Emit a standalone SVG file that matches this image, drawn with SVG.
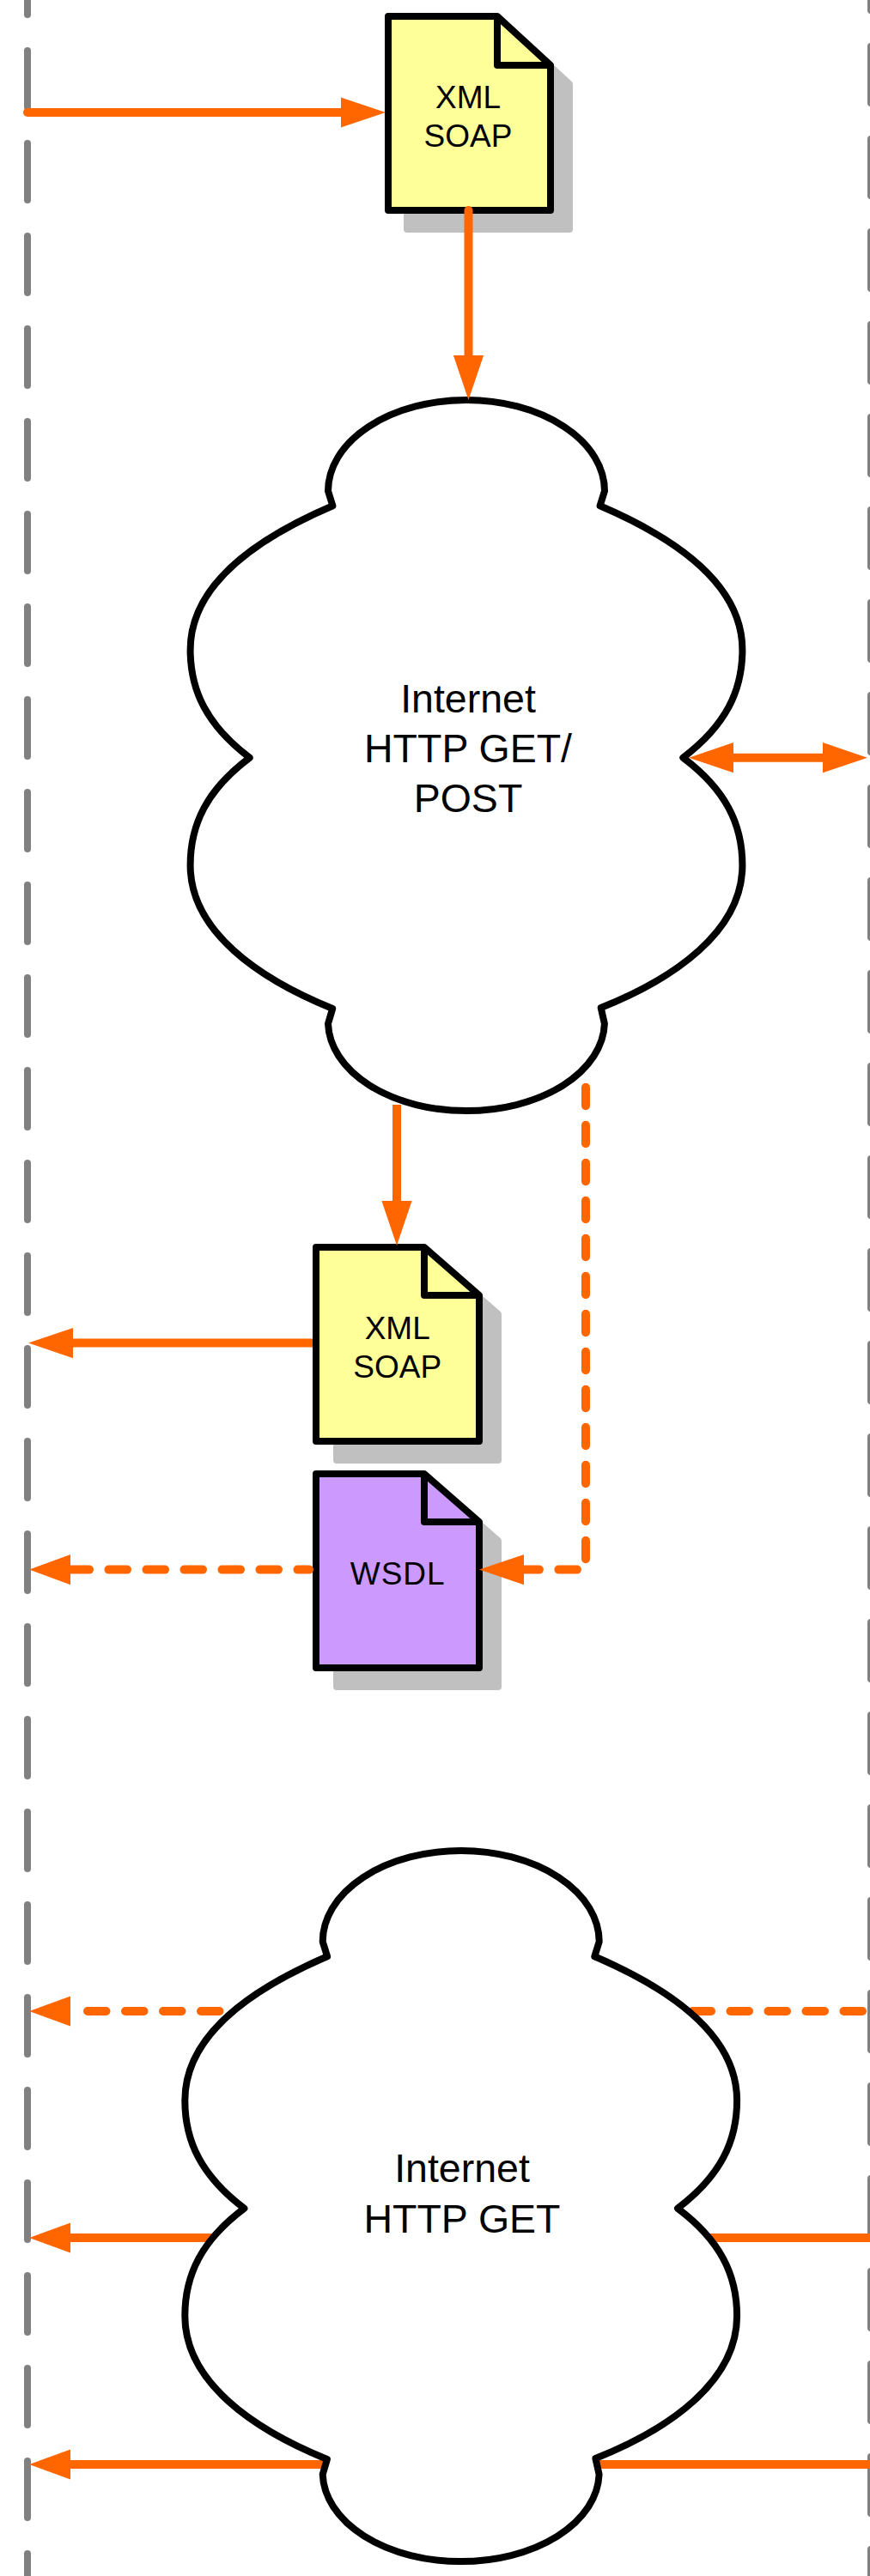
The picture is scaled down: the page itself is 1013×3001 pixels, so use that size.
<svg xmlns="http://www.w3.org/2000/svg" width="1013" height="3001" viewBox="0 0 1013 3001">
<style>
.lane{fill:none;stroke:#808080;stroke-width:8;stroke-linecap:round;stroke-dasharray:66 42}
.cloud{fill:#fff;stroke:#000;stroke-width:8;stroke-linejoin:round}
.doc{stroke:#000;stroke-width:8;stroke-linejoin:round}
.fold{fill:none;stroke:#000;stroke-width:8;stroke-linejoin:round}
.shadow{fill:#c0c0c0;stroke:#c0c0c0;stroke-width:8;stroke-linejoin:round}
.yellow{fill:#ffff99}
.purple{fill:#cc99ff}
.flow{fill:none;stroke:#ff6600;stroke-width:10}
.dash{stroke-dasharray:21.5 22.5;stroke-linecap:round}
text{font-family:"Liberation Sans",Arial,sans-serif;fill:#000;text-anchor:middle}
.t1{font-size:46.5px}
.t2{font-size:37px}
</style>
<defs>
<marker id="arrowA" viewBox="0 -18 52 36" markerWidth="52" markerHeight="36" refX="0" refY="0" markerUnits="userSpaceOnUse" orient="auto-start-reverse"><path d="M0,-17.6 L52,0 L0,17.6 Z" fill="#ff6600"/></marker>
<marker id="arrowB" viewBox="0 -18 48 36" markerWidth="48" markerHeight="36" refX="0" refY="0" markerUnits="userSpaceOnUse" orient="auto"><path d="M0,-17.6 L48,0 L0,17.6 Z" fill="#ff6600"/></marker>
<path id="cloud-shape" d="M382,572 A161,106 0 0 1 704,572 L698.6,589.3 C775,622 864.4,675 864.4,757 C864.4,805 845,845 795.3,882.7 C845,920 864.4,960 864.4,1008 C864.4,1085 785,1140 699.7,1174 L703.9,1192.7 A161,104 0 0 1 382,1192.7 L387.2,1175 C301,1140 221.6,1085 221.6,1008 C221.6,960 241,920 290.7,882.7 C241,845 221.6,805 221.6,757 C221.6,675 311,622 387.4,589.3 Z"/>
</defs>
<g id="lanes">
<path class="lane" d="M32,59 V3001"/>
<path class="lane" d="M1014,54 V3001"/>
<path class="lane" d="M32,-49 V20"/>
<path class="lane" d="M1014,-54 V20"/>
</g>
<g id="cloud-1">
<use href="#cloud-shape" class="cloud"/>
<text class="t1" x="545" y="830">Internet</text>
<text class="t1" x="545" y="888">HTTP GET/</text>
<text class="t1" x="545" y="946">POST</text>
</g>
<g id="doc-xml-1">
<path class="shadow" d="M474,41 H601 L663,98 V267 H474 Z"/>
<path class="doc yellow" d="M452,19 H579 L641,76 V245 H452 Z"/>
<path class="fold" d="M579,19 V76 H641"/>
<text class="t2" x="545" y="126">XML</text>
<text class="t2" x="545" y="170.7">SOAP</text>
</g>
<g id="doc-xml-2">
<path class="shadow" d="M392,1475 H516 L580,1531 V1701 H392 Z"/>
<path class="doc yellow" d="M368,1453 H494 L558,1509 V1679 H368 Z"/>
<path class="fold" d="M494,1453 V1509 H558"/>
<text class="t2" x="462.7" y="1560">XML</text>
<text class="t2" x="462.7" y="1604.7">SOAP</text>
</g>
<g id="doc-wsdl">
<path class="shadow" d="M392,1739 H516 L580,1795 V1965 H392 Z"/>
<path class="doc purple" d="M368,1717 H494 L558,1773 V1943 H368 Z"/>
<path class="fold" d="M494,1717 V1773 H558"/>
<text class="t2" x="462.7" y="1846" textLength="110">WSDL</text>
</g>
<g id="connectors">
<path class="flow" stroke-linecap="round" d="M32,131 H397" marker-end="url(#arrowA)"/>
<path class="flow" stroke-linecap="round" d="M545.5,245 V414" marker-end="url(#arrowA)"/>
<path class="flow" d="M854,882.7 H958" marker-start="url(#arrowA)" marker-end="url(#arrowA)"/>
<path class="flow" d="M462,1287 V1399" marker-end="url(#arrowA)"/>
<path class="flow" d="M364,1564.6 H85" marker-end="url(#arrowA)"/>
<path class="flow dash" stroke-dashoffset="8" d="M360,1828.6 H82" marker-end="url(#arrowB)"/>
<path class="flow dash" d="M682,1266.7 V1828.6 H610" marker-end="url(#arrowA)"/>
<path class="flow dash" d="M255.5,2343 H82" marker-end="url(#arrowB)"/>
<path class="flow dash" d="M1004,2343 H800"/>
<path class="flow" d="M300,2607 H82" marker-end="url(#arrowB)"/>
<path class="flow" d="M780,2607 H1013"/>
<path class="flow" d="M420,2871 H82" marker-end="url(#arrowB)"/>
<path class="flow" d="M660,2871 H1013"/>
</g>
<g id="cloud-2">
<use href="#cloud-shape" class="cloud" transform="translate(-6.3,1690)"/>
<text class="t1" x="538" y="2542.3">Internet</text>
<text class="t1" x="538" y="2600.7">HTTP GET</text>
</g>
</svg>
